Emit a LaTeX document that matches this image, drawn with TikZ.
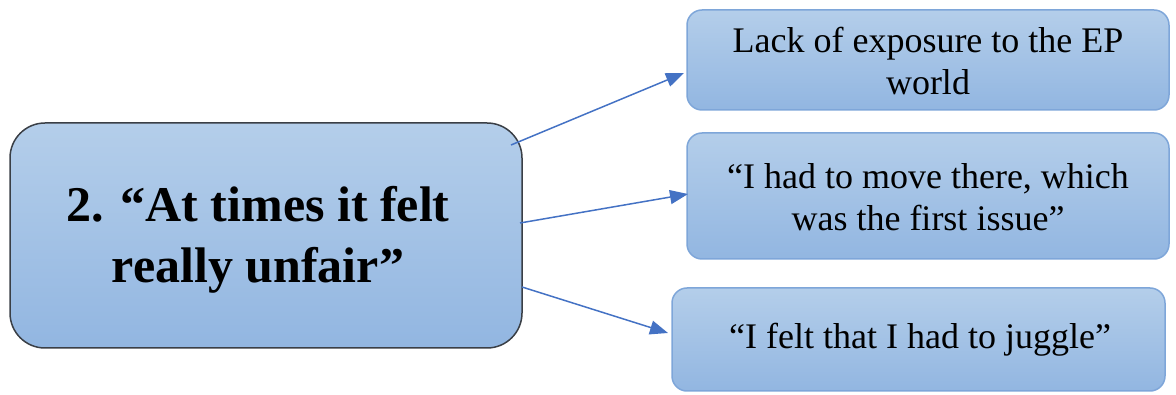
\documentclass[tikz,border=0pt]{standalone}
\usepackage{fontspec}
\setmainfont{Liberation Serif}
\usetikzlibrary{arrows.meta}
\definecolor{boxtop}{HTML}{B4CEEA}
\definecolor{boxbot}{HTML}{92B6E1}
\definecolor{boxedge}{HTML}{7EA6D9}
\definecolor{mainedge}{HTML}{3A3F46}
\definecolor{linkblue}{HTML}{4472C4}
\tikzset{
  mainbox/.style={draw=mainedge, line width=1.5pt, rounded corners=35pt,
    top color=boxtop, bottom color=boxbot, inner sep=0pt},
  sidebox/.style={draw=boxedge, line width=1.5pt, rounded corners=15pt,
    top color=boxtop, bottom color=boxbot, inner sep=0pt},
  maintext/.style={align=center, font=\fontsize{50}{61}\selectfont\bfseries},
  sidetext/.style={align=center, font=\fontsize{36}{42}\selectfont},
  link/.style={draw=linkblue, line width=1.5pt,
    -{Triangle[length=18pt,width=14pt]}, shorten >=0pt}
}
\begin{document}
\begin{tikzpicture}[x=1pt,y=-1pt]
\useasboundingbox (0,0) rectangle (1176,395);

% central theme box
\node[mainbox, minimum width=512pt, minimum height=225pt] (main) at (266,235.5) {};
\node[maintext] (maintxt) at (258,240) {2. “At times it felt\\really unfair”};

% sub-theme boxes
\node[sidebox, minimum width=482pt, minimum height=100pt] (b1) at (928,60) {};
\node[sidetext] (t1) at (928,61) {Lack of exposure to the EP\\world};

\node[sidebox, minimum width=482pt, minimum height=126pt] (b2) at (928,196) {};
\node[sidetext] (t2) at (928,197) {“I had to move there, which\\was the first issue”};

\node[sidebox, minimum width=493pt, minimum height=103pt] (b3) at (918.5,339.5) {};
\node[sidetext] (t3) at (920,340) {“I felt that I had to juggle”};

% connector anchors
\coordinate (s1) at (511,145);
\coordinate (e1) at (684,73);
\coordinate (s2) at (520,223);
\coordinate (e2) at (688,194);
\coordinate (s3) at (522,287);
\coordinate (e3) at (668,333);

\draw[link] (s1) -- (e1);
\draw[link] (s2) -- (e2);
\draw[link] (s3) -- (e3);
\end{tikzpicture}
\end{document}
